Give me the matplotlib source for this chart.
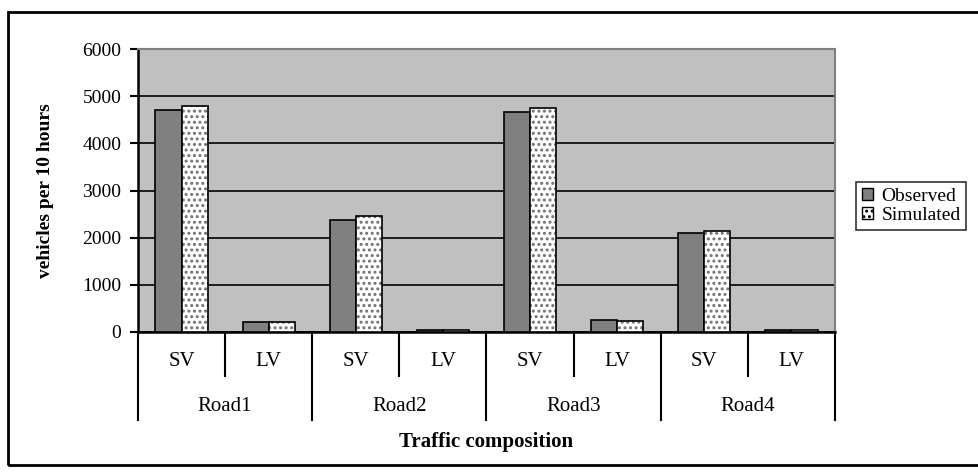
import matplotlib.pyplot as plt
import matplotlib.transforms as mtransforms
from matplotlib.patches import Rectangle, Patch
import numpy as np

plt.rcParams['font.family'] = ['Liberation Serif', 'DejaVu Serif']
plt.rcParams['hatch.linewidth'] = 1.4

roads = ['Road1', 'Road2', 'Road3', 'Road4']
types = ['SV', 'LV']
observed = [4700, 220, 2370, 40, 4670, 260, 2090, 40]
simulated = [4790, 220, 2450, 40, 4740, 225, 2140, 40]
yticks = [0, 1000, 2000, 3000, 4000, 5000, 6000]

fig = plt.figure(figsize=(9.79, 4.75), dpi=100)
ax = fig.add_axes([138/979, 1 - 332/475, (835 - 138)/979, (332 - 49)/475])
ax.set_facecolor('#C0C0C0')

x = np.arange(len(observed))
w = 0.3
ax.bar(x - w/2, observed, w, color='#808080', edgecolor='black', linewidth=1.2, zorder=3)
# dotted fill for simulated, then a black outline on top
ax.bar(x + w/2, simulated, w, color='white', edgecolor='#707070', hatch='...', linewidth=0, zorder=3)
ax.bar(x + w/2, simulated, w, fill=False, edgecolor='black', linewidth=1.2, zorder=4)

ax.set_xlim(-0.5, len(observed) - 0.5)
ax.set_ylim(0, 6000)
ax.set_yticks(yticks)
ax.set_yticklabels([str(v) for v in yticks], fontsize=14)
ax.tick_params(axis='y', direction='out', length=6, width=1.5, pad=6)
ax.yaxis.grid(True, color='black', linewidth=1.2, zorder=1)
ax.set_axisbelow(True)
ax.set_xticks([])

for s in ['top', 'right']:
    ax.spines[s].set_color('#808080')
    ax.spines[s].set_linewidth(1.5)
ax.spines['left'].set_linewidth(1.8)
ax.spines['bottom'].set_linewidth(1.8)

ax.set_ylabel('vehicles per 10 hours', fontsize=14, fontweight='bold', labelpad=20)

# two-level category axis
trans = mtransforms.blended_transform_factory(ax.transData, ax.transAxes)
for i in range(len(x)):
    ax.text(i, -0.106, types[i % 2], transform=trans, ha='center', va='center', fontsize=15)
for i in range(len(x) + 1):
    y_end = -0.311 if i % 2 == 0 else -0.155
    ax.plot([i - 0.5, i - 0.5], [0, y_end], transform=trans, color='black', linewidth=1.5, clip_on=False)
for j, r in enumerate(roads):
    ax.text(2*j + 0.5, -0.265, r, transform=trans, ha='center', va='center', fontsize=15)

ax.text(0.5, -0.39, 'Traffic composition', transform=ax.transAxes, ha='center', va='center',
        fontsize=15, fontweight='bold')

handles = [Patch(facecolor='#808080', edgecolor='black', label='Observed'),
           Patch(facecolor='white', edgecolor='black', hatch='...', label='Simulated')]
leg = fig.legend(handles=handles, loc='center left', bbox_to_anchor=(856/979, 1 - 206/475),
                 fontsize=14, frameon=True, fancybox=False, edgecolor='black',
                 handlelength=0.6, handleheight=0.6, handletextpad=0.4,
                 borderpad=0.3, labelspacing=0.1, borderaxespad=0)
leg.get_frame().set_linewidth(1.2)

fig.patches.append(Rectangle((8/979, 1 - 465/475), 975/979, (465 - 12)/475,
                             transform=fig.transFigure, fill=False,
                             edgecolor='black', linewidth=2))

fig.savefig('out.png', dpi=100)
